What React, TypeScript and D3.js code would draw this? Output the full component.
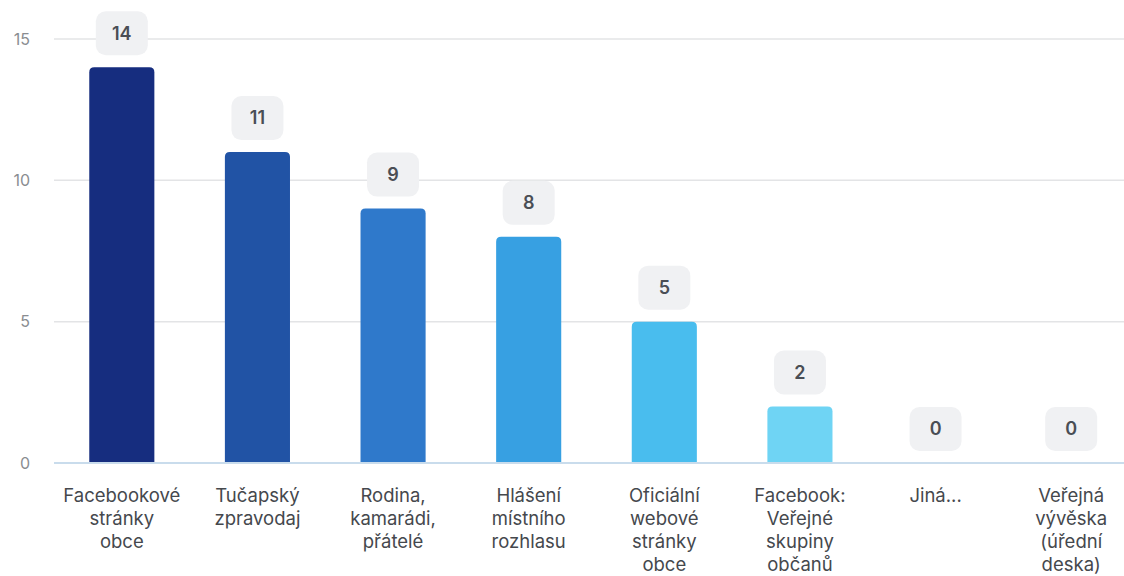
import * as React from "react";
import { scaleBand, scaleLinear } from "d3";

const categories = [
  ["Facebookové", "stránky", "obce"],
  ["Tučapský", "zpravodaj"],
  ["Rodina,", "kamarádi,", "přátelé"],
  ["Hlášení", "místního", "rozhlasu"],
  ["Oficiální", "webové", "stránky", "obce"],
  ["Facebook:", "Veřejné", "skupiny", "občanů"],
  ["Jiná..."],
  ["Veřejná", "vývěska", "(úřední", "deska)"],
];
const values = [14, 11, 9, 8, 5, 2, 0, 0];
const barColors = ["#162d7f", "#2153a5", "#2f79cb", "#37a0e2", "#49bdee", "#6fd4f4", "#8fe0f6", "#aee9f8"];
const yTicks = [0, 5, 10, 15];

const W = 1124;
const H = 576;
const margin = { left: 54, right: -15, top: 39, bottom: 113 };

function topRoundedBar(x: number, y: number, w: number, h: number, r: number) {
  if (h <= 0) return "";
  const rr = Math.min(r, h, w / 2);
  return `M${x},${y + h}V${y + rr}Q${x},${y} ${x + rr},${y}H${x + w - rr}Q${x + w},${y} ${x + w},${y + rr}V${y + h}Z`;
}

export default function App() {
  const keys = categories.map((c) => c.join(" "));
  const x = scaleBand<string>()
    .domain(keys)
    .range([margin.left, W - margin.right])
    .paddingInner(0.52)
    .paddingOuter(0.26);
  const y = scaleLinear().domain([0, 15]).range([H - margin.bottom, margin.top]);
  const bw = x.bandwidth();
  const font = "Inter, 'Noto Sans', sans-serif";

  return (
    <svg
      width={W}
      height={H}
      style={{ position: "absolute", left: 0, top: 0, background: "#fff" }}
      fontFamily={font}
    >
      {yTicks.map((t) => (
        <g key={`tick-${t}`}>
          {t > 0 && (
            <line x1={margin.left} x2={W} y1={y(t)} y2={y(t)} stroke="#e3e4e6" strokeWidth={1.5} />
          )}
          <text x={30} y={y(t)} dy="0.35em" textAnchor="end" fontSize={16} fill="#8a8d91">
            {t}
          </text>
        </g>
      ))}
      <line x1={margin.left} x2={W} y1={y(0)} y2={y(0)} stroke="#c9dcec" strokeWidth={2} />
      {keys.map((k, i) => {
        const bx = x(k) as number;
        const cx = bx + bw / 2;
        const top = y(values[i]);
        const boxW = 52;
        const boxH = 44;
        const boxY = top - 12 - boxH;
        return (
          <g key={`bar-${k}`}>
            <path d={topRoundedBar(bx, top, bw, y(0) - top - 1, 5)} fill={barColors[i]} />
            <rect x={cx - boxW / 2} y={boxY} width={boxW} height={boxH} rx={10} fill="#f0f1f3" />
            <text
              x={cx}
              y={boxY + boxH / 2}
              dy="0.35em"
              textAnchor="middle"
              fontSize={18}
              fontWeight={600}
              fill="#4a4e55"
            >
              {values[i]}
            </text>
            <text x={cx} y={496} textAnchor="middle" fontSize={18.5} fill="#45484d">
              {categories[i].map((line, j) => (
                <tspan key={j} x={cx} y={496 + j * 22.8} dy="0.35em">
                  {line}
                </tspan>
              ))}
            </text>
          </g>
        );
      })}
    </svg>
  );
}
